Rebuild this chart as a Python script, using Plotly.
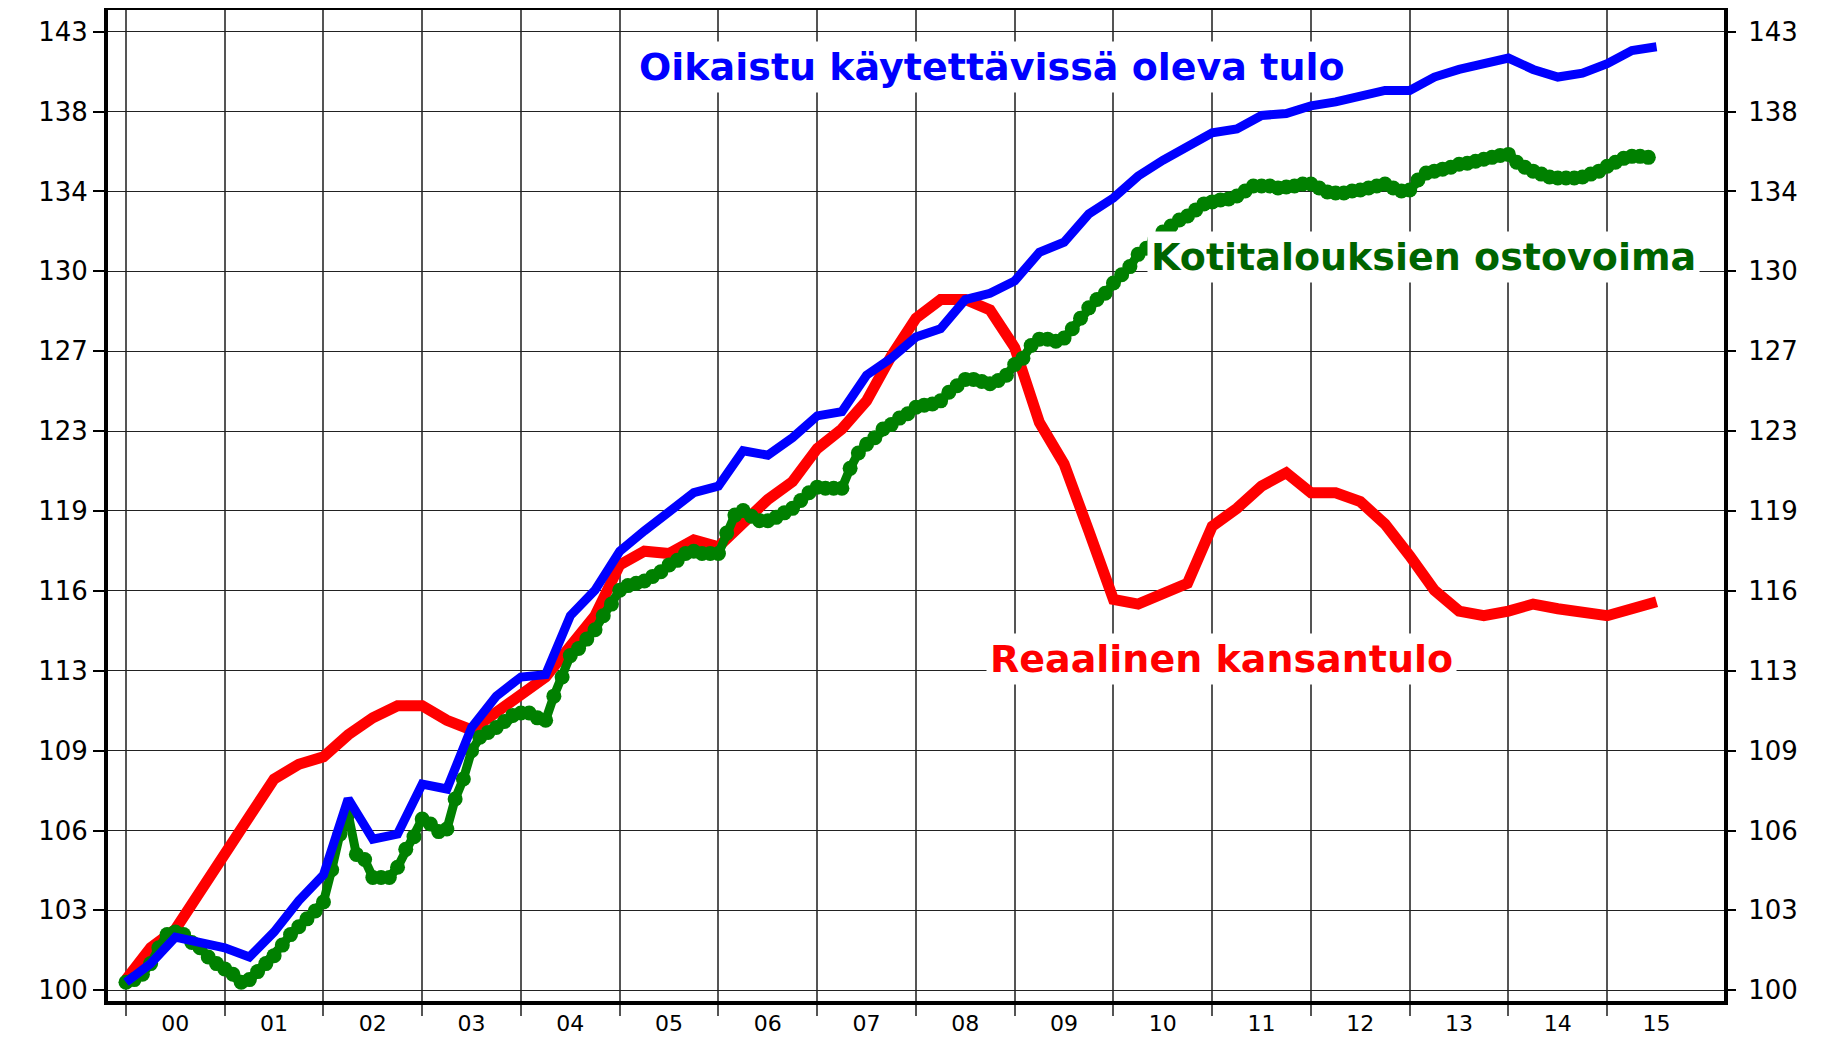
import math
import plotly.graph_objects as go

# ---------------- data ----------------
year_labels = ["00", "01", "02", "03", "04", "05", "06", "07",
               "08", "09", "10", "11", "12", "13", "14", "15"]
y_tick_labels = ["100", "103", "106", "109", "113", "116", "119",
                 "123", "127", "130", "134", "138", "143"]

# quarterly, 2000Q1 .. 2015Q3
real_national_income = [
    100.4, 101.6, 102.3, 103.7,
    105.1, 106.7, 108.2, 108.8,
    109.1, 110.0, 110.7, 111.2,
    111.2, 110.6, 110.2, 110.9,
    111.6, 112.4, 113.7, 115.0,
    117.2, 117.8, 117.7, 118.3,
    118.0, 119.0, 120.1, 120.9,
    122.4, 123.3, 124.6, 126.7,
    128.5, 129.4, 129.4, 128.9,
    127.1, 123.6, 121.7, 118.7,
    115.7, 115.5, 116.0, 116.4,
    118.9, 119.7, 120.7, 121.3,
    120.4, 120.4, 120.0, 119.0,
    117.6, 116.1, 115.2, 115.0,
    115.2, 115.5, 115.3, 115.1,
    115.0, 115.3, 115.6,
]

# quarterly, 2000Q1 .. 2015Q3
adjusted_disposable_income = [
    100.3, 101.0, 102.0, 101.8,
    101.6, 101.25, 102.2, 103.4,
    104.4, 107.4, 105.8, 106.0,
    108.0, 107.8, 110.3, 111.6,
    112.4, 112.5, 115.0, 116.1,
    117.8, 118.7, 119.5, 120.4,
    120.7, 122.3, 122.1, 122.9,
    123.9, 124.1, 125.8, 126.6,
    127.6, 128.0, 129.4, 129.7,
    130.3, 131.7, 132.2, 133.6,
    134.4, 135.5, 136.3, 136.95,
    137.7, 137.9, 138.6, 138.7,
    139.1, 139.3, 139.6, 139.9,
    139.9, 140.6, 141.0, 141.3,
    141.6, 141.0, 140.6, 140.8,
    141.3, 142.0, 142.2,
]

# monthly, 2000-01 .. 2015-06
household_purchasing_power = [
    100.3, 100.4, 100.6, 101.0, 101.6, 102.1, 102.2, 102.1, 101.8, 101.6, 101.25, 101.0,
    100.8, 100.6, 100.3, 100.4, 100.7, 101.0, 101.3, 101.7, 102.1, 102.4, 102.7, 103.0,
    103.35, 104.6, 106.0, 106.8, 105.2, 105.0, 104.3, 104.3, 104.3, 104.7, 105.4, 105.9,
    106.6, 106.4, 106.1, 106.2, 107.4, 108.2, 109.35, 109.9, 110.1, 110.3, 110.55, 110.8,
    110.9, 110.9, 110.7, 110.6, 111.6, 112.4, 113.3, 113.6, 114.0, 114.4, 115.0, 115.5,
    116.1, 116.3, 116.4, 116.5, 116.7, 116.9, 117.2, 117.4, 117.7, 117.8, 117.7, 117.7,
    117.7, 118.6, 119.4, 119.6, 119.35, 119.15, 119.15, 119.3, 119.5, 119.7, 120.05, 120.4,
    120.65, 120.6, 120.6, 120.6, 121.5, 122.2, 122.6, 122.9, 123.3, 123.5, 123.8, 124.0,
    124.3, 124.4, 124.45, 124.6, 125.0, 125.3, 125.6, 125.6, 125.5, 125.4, 125.55, 125.8,
    126.3, 126.6, 127.2, 127.5, 127.5, 127.4, 127.55, 128.0, 128.5, 129.0, 129.4, 129.7,
    130.2, 130.6, 131.0, 131.6, 131.9, 132.3, 132.7, 133.0, 133.3, 133.5, 133.8, 134.1,
    134.2, 134.3, 134.35, 134.5, 134.75, 135.0, 135.0, 135.0, 134.9, 134.95, 135.0, 135.1,
    135.1, 134.9, 134.7, 134.65, 134.65, 134.75, 134.8, 134.9, 135.0, 135.1, 134.9, 134.75,
    134.8, 135.3, 135.65, 135.75, 135.85, 135.95, 136.1, 136.15, 136.25, 136.35, 136.45, 136.55,
    136.6, 136.2, 135.95, 135.75, 135.6, 135.45, 135.4, 135.4, 135.4, 135.45, 135.6, 135.75,
    136.0, 136.2, 136.4, 136.5, 136.5, 136.45,
]

label_blue = "Oikaistu käytettävissä oleva tulo"
label_green = "Kotitalouksien ostovoima"
label_red = "Reaalinen kansantulo"

# ---------------- derived positions ----------------
START_YEAR = 2000
t_q = [START_YEAR + i / 4 for i in range(len(real_national_income))]
t_m = [START_YEAR + i / 12 for i in range(len(household_purchasing_power))]
year_starts = [START_YEAR + i for i in range(len(year_labels))]
year_mids = [START_YEAR + i + 0.5 for i in range(len(year_labels))]
ratio = 1.43 ** (1 / 12)
y_tick_vals = [100 * ratio ** k for k in range(len(y_tick_labels))]

FONT = "DejaVu Sans"
TICK_SIZE = 26
X_RANGE = [1999.818, 2016.183]
Y_RANGE = [1.998262, 2.158852]

fig = go.Figure()
fig.add_trace(go.Scatter(x=t_q, y=real_national_income, mode="lines",
                         line=dict(color="#ff0000", width=11),
                         showlegend=False, hoverinfo="skip"))
fig.add_trace(go.Scatter(x=t_m, y=household_purchasing_power, mode="lines+markers",
                         line=dict(color="#008000", width=9),
                         marker=dict(color="#008000", size=15, line=dict(width=0)),
                         showlegend=False, hoverinfo="skip"))
fig.add_trace(go.Scatter(x=t_q, y=adjusted_disposable_income, mode="lines",
                         line=dict(color="#0000ff", width=9),
                         showlegend=False, hoverinfo="skip"))
# helper (invisible) trace for the right-hand axis
fig.add_trace(go.Scatter(x=[t_q[0]], y=[adjusted_disposable_income[0]], yaxis="y2",
                         mode="markers", marker=dict(opacity=0),
                         showlegend=False, hoverinfo="skip"))

ytick_common = dict(
    type="log", range=Y_RANGE, tickmode="array",
    tickvals=y_tick_vals, ticktext=y_tick_labels,
    ticks="outside", ticklen=11, tickwidth=2, tickcolor="black",
    tickfont=dict(family=FONT, size=TICK_SIZE, color="black"),
    fixedrange=True, automargin=False,
)

fig.update_layout(
    width=1822, height=1029,
    margin=dict(l=100, r=106, t=2, b=36, autoexpand=False),
    paper_bgcolor="white", plot_bgcolor="white",
    xaxis=dict(
        range=X_RANGE, tickmode="array", tickvals=year_mids, ticktext=year_labels,
        ticks="", ticklabelstandoff=0,
        tickfont=dict(family=FONT, size=22, color="black"),
        showgrid=False, zeroline=False, automargin=False, fixedrange=True,
        showline=True, linecolor="black", linewidth=4, mirror=True,
        minor=dict(tickmode="array", tickvals=year_starts, ticks="outside",
                   ticklen=11, tickwidth=1.5, tickcolor="#555555",
                   showgrid=True, gridcolor="#555555", gridwidth=1.5),
    ),
    yaxis=dict(
        **ytick_common, side="left", ticklabelstandoff=0,
        showgrid=True, gridcolor="#222222", gridwidth=1.2, zeroline=False,
        showline=True, linecolor="black", linewidth=4, mirror=True,
    ),
    yaxis2=dict(
        **ytick_common, side="right", overlaying="y", ticklabelstandoff=7,
        showgrid=False, zeroline=False, showline=False,
    ),
    annotations=[
        dict(x=2008.77, y=2.1496, xref="x", yref="y", text=label_blue, showarrow=False,
             font=dict(family=FONT, size=38, color="#0000ff", weight="bold"),
             bgcolor="white", borderpad=3),
        dict(x=2013.14, y=2.1188, xref="x", yref="y", text=label_green, showarrow=False,
             font=dict(family=FONT, size=38, color="#006400", weight="bold"),
             bgcolor="white", borderpad=3),
        dict(x=2011.09, y=2.0537, xref="x", yref="y", text=label_red, showarrow=False,
             font=dict(family=FONT, size=38, color="#ff0000", weight="bold"),
             bgcolor="white", borderpad=3),
    ],
)

fig.write_html("out.html")
